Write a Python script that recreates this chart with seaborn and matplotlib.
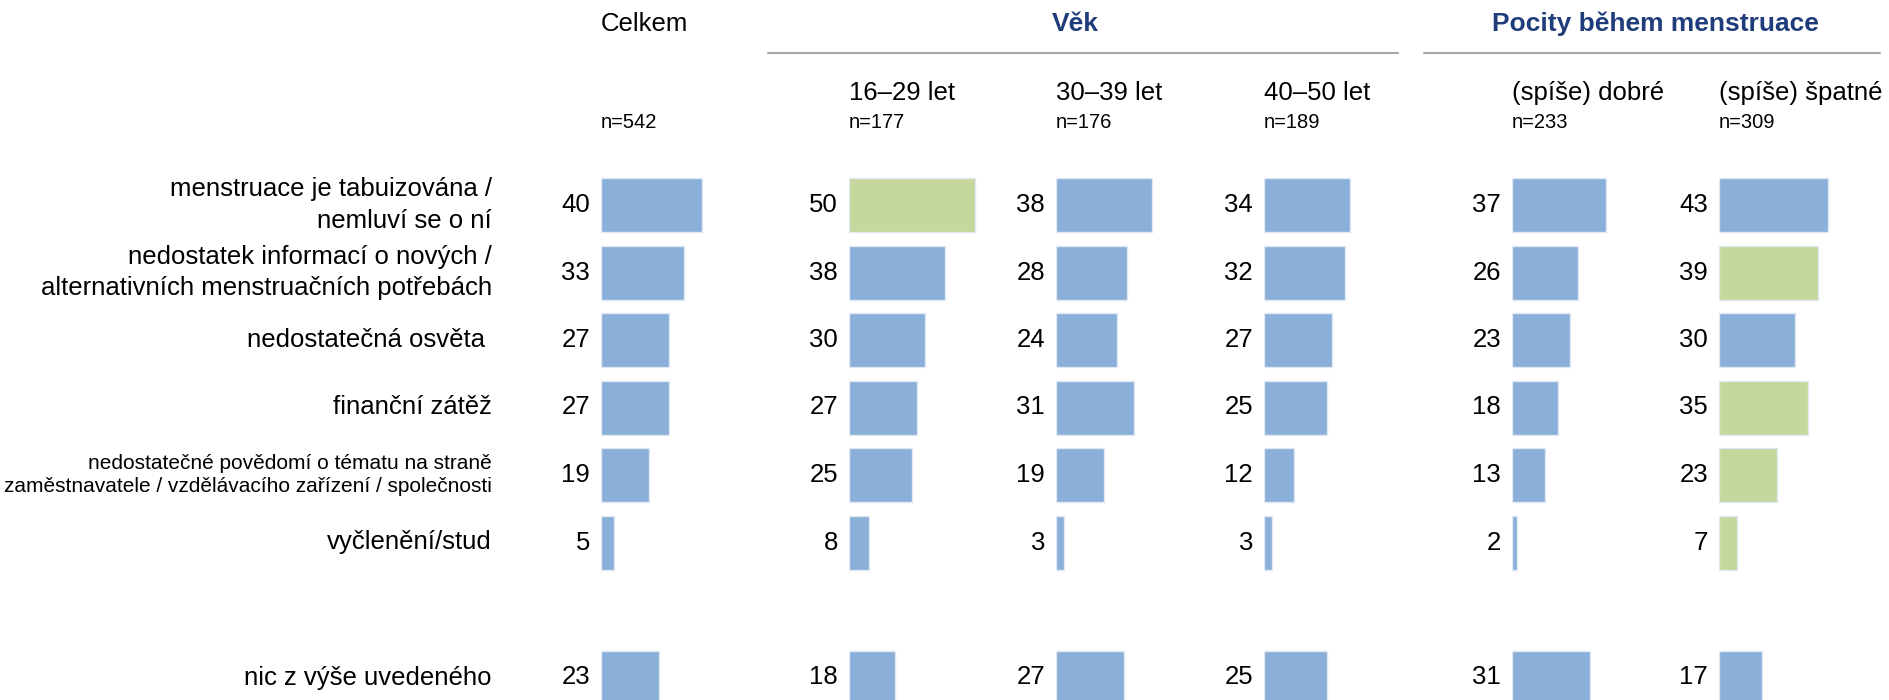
import pandas as pd
import seaborn as sns
import matplotlib.pyplot as plt
from matplotlib.lines import Line2D

sns.set_style("white")
plt.rcParams['font.family'] = ['Liberation Sans', 'DejaVu Sans']
plt.rcParams['text.color'] = 'black'

# data
items = ["menstruace je tabuizována /\nnemluví se o ní",
         "nedostatek informací o nových /\nalternativních menstruačních potřebách",
         "nedostatečná osvěta ",
         "finanční zátěž",
         "nedostatečné povědomí o tématu na straně\nzaměstnavatele / vzdělávacího zařízení / společnosti",
         "vyčlenění/stud",
         "nic z výše uvedeného"]
rows = [0, 1, 2, 3, 4, 5, 7]

groups = ["Celkem", "16–29 let", "30–39 let", "40–50 let", "(spíše) dobré", "(spíše) špatné"]
n_sizes = ["n=542", "n=177", "n=176", "n=189", "n=233", "n=309"]

celkem = [40, 33, 27, 27, 19, 5, 23]
age_16_29 = [50, 38, 30, 27, 25, 8, 18]
age_30_39 = [38, 28, 24, 31, 19, 3, 27]
age_40_50 = [34, 32, 27, 25, 12, 3, 25]
pocity_dobre = [37, 26, 23, 18, 13, 2, 31]
pocity_spatne = [43, 39, 30, 35, 23, 7, 17]

# significantly higher values (green)
hl_16_29 = [1, 0, 0, 0, 0, 0, 0]
hl_spatne = [0, 1, 0, 1, 1, 1, 0]
no_hl = [0] * 7

series = [celkem, age_16_29, age_30_39, age_40_50, pocity_dobre, pocity_spatne]
highlights = [no_hl, hl_16_29, no_hl, no_hl, no_hl, hl_spatne]

blue = "#8aafd8"
green = "#c5d79c"
navy = "#1f3d7a"

W, H = 1890, 700
fig = plt.figure(figsize=(18.9, 7), dpi=100)

px_per_unit = 2.53
row_px = 67.5
row0_px = 205
ax_top_px = 160
bar_starts = [601, 849, 1056, 1264, 1512, 1719]
ax_w_px = 160

for i, (vals, hl) in enumerate(zip(series, highlights)):
    x0 = bar_starts[i]
    ax = fig.add_axes([x0 / W, 0, ax_w_px / W, (H - ax_top_px) / H])
    df = pd.DataFrame({"row": rows, "value": vals,
                       "hl": ["yes" if h else "no" for h in hl]})
    sns.barplot(data=df, x="value", y="row", hue="hl", orient="h",
                native_scale=True, dodge=False, width=0.8, saturation=1,
                palette={"no": blue, "yes": green}, legend=False,
                edgecolor="#dfe8f3", linewidth=1, ax=ax)
    ax.set_xlim(0, ax_w_px / px_per_unit)
    ax.set_ylim((H - row0_px) / row_px, -(row0_px - ax_top_px) / row_px)
    ax.axis("off")
    for r, v in zip(rows, vals):
        ax.text(-11 / px_per_unit, r, str(v), ha="right", va="center",
                fontsize=18.5, clip_on=False)
    if i == 0:
        for r, lab in zip(rows, items):
            fs = 15 if r == 4 else 18.5
            ls = 1.3 if r == 4 else 1.4
            ax.text(-(x0 - 492) / px_per_unit, r, lab, ha="right", va="center",
                    fontsize=fs, linespacing=ls, clip_on=False)

# headers
def ftext(x, y, s, **kw):
    fig.text(x / W, 1 - y / H, s, **kw)

ftext(601, 24, "Celkem", fontsize=18.5, ha="left", va="center")
ftext(1075, 24, "Věk", fontsize=19, fontweight="bold", color=navy, ha="center", va="center")
ftext(1655, 24, "Pocity během menstruace", fontsize=19, fontweight="bold", color=navy,
      ha="center", va="center")

for (xa, xb) in [(768, 1398), (1424, 1880)]:
    fig.add_artist(Line2D([xa / W, xb / W], [1 - 53 / H, 1 - 53 / H],
                          color="#a6a6a6", linewidth=1.5))

for i, (g, n) in enumerate(zip(groups, n_sizes)):
    if i > 0:
        ftext(bar_starts[i], 93, g, fontsize=18.5, ha="left", va="center")
    ftext(bar_starts[i], 122, n, fontsize=14.5, ha="left", va="center")

fig.savefig("out.png", dpi=100)
